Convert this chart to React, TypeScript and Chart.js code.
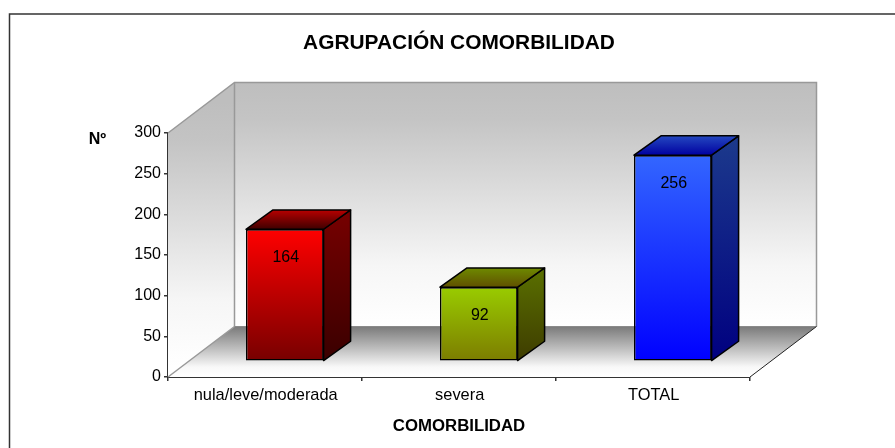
import React, { useEffect, useRef } from "react";
import { Chart, registerables } from "chart.js";

Chart.register(...registerables);

const categories = ["nula/leve/moderada", "severa", "TOTAL"];
const values = [164, 92, 256];
const yTicks = [0, 50, 100, 150, 200, 250, 300];
const chartTitle = "AGRUPACIÓN COMORBILIDAD";
const xTitle = "COMORBILIDAD";
const yTitle = "Nº";

const FONT = "'Liberation Sans', Arial, sans-serif";

const frontColors = [["#ff0000", "#770000"], ["#99cc00", "#7c7c00"], ["#3366ff", "#0000ff"]];
const sideColors = [["#770000", "#3a0000"], ["#5a7000", "#3e3c00"], ["#1c3a8c", "#000080"]];
const topColors = [["#b80000", "#3e0000"], ["#6e8a00", "#605000"], ["#2448c0", "#0000a0"]];

// depth of the plot floor/walls and of the bars, in pixels
const WALL_DX = 66.5;
const WALL_DY = -50.5;
const BAR_SHIFT_X = 19.8;
const BAR_SHIFT_Y = -15.7;
const BAR_DX = 27;
const BAR_DY = -19.5;
const BAR_Y_SCALE = 0.99;

function vGrad(ctx: CanvasRenderingContext2D, y0: number, y1: number, stops: [number, string][]) {
  const g = ctx.createLinearGradient(0, y0, 0, y1);
  stops.forEach(([o, c]) => g.addColorStop(o, c));
  return g;
}

function poly(ctx: CanvasRenderingContext2D, pts: number[][]) {
  ctx.beginPath();
  pts.forEach(([x, y], i) => (i ? ctx.lineTo(x, y) : ctx.moveTo(x, y)));
  ctx.closePath();
}

const wallsPlugin = {
  id: "walls",
  beforeDatasetsDraw(chart: any) {
    const ctx: CanvasRenderingContext2D = chart.ctx;
    const { left, right, top, bottom } = chart.chartArea;
    const bl = left + WALL_DX;
    const br = right + WALL_DX;
    const bt = top + WALL_DY;
    const bb = bottom + WALL_DY;
    ctx.save();

    // frame around the picture
    ctx.strokeStyle = "#333333";
    ctx.lineWidth = 1.5;
    ctx.beginPath();
    ctx.moveTo(9.5, 448);
    ctx.lineTo(9.5, 14);
    ctx.lineTo(895, 14);
    ctx.stroke();

    const wallStops: [number, string][] = [[0, "#bebebe"], [0.15, "#c4c4c4"], [0.75, "#f6f6f6"], [1, "#ffffff"]];
    // back wall
    poly(ctx, [[bl, bt], [br, bt], [br, bb], [bl, bb]]);
    ctx.fillStyle = vGrad(ctx, bt, bb, wallStops);
    ctx.fill();
    // left wall
    poly(ctx, [[left, top], [bl, bt], [bl, bb], [left, bottom]]);
    ctx.fillStyle = vGrad(ctx, bt + 20, bottom - 10, wallStops);
    ctx.fill();
    // floor
    poly(ctx, [[left, bottom], [bl, bb], [br, bb], [right, bottom]]);
    ctx.fillStyle = vGrad(ctx, bb, bottom, [[0, "#7a7a7a"], [0.45, "#c0c0c0"], [0.8, "#f8f8f8"], [1, "#ffffff"]]);
    ctx.fill();

    // wall edges
    ctx.strokeStyle = "#999999";
    ctx.lineWidth = 1.5;
    ctx.beginPath();
    ctx.moveTo(left, top);
    ctx.lineTo(bl, bt);
    ctx.lineTo(br, bt);
    ctx.lineTo(br, bb);
    ctx.moveTo(bl, bt);
    ctx.lineTo(bl, bb);
    ctx.moveTo(left, bottom);
    ctx.lineTo(bl, bb);
    ctx.stroke();
    ctx.strokeStyle = "#8a8a8a";
    ctx.lineWidth = 1;
    ctx.beginPath();
    ctx.moveTo(bl, bb);
    ctx.lineTo(br, bb);
    ctx.stroke();
    ctx.strokeStyle = "#222222";
    ctx.lineWidth = 1;
    ctx.beginPath();
    ctx.moveTo(right, bottom);
    ctx.lineTo(br, bb);
    ctx.stroke();

    // horizontal y-axis caption
    ctx.fillStyle = "#000000";
    ctx.font = `bold 16px ${FONT}`;
    ctx.textAlign = "center";
    ctx.textBaseline = "middle";
    ctx.fillText(yTitle, 97.5, 140);
    ctx.restore();
  },
};

const bars3dPlugin = {
  id: "bars3d",
  beforeDatasetDraw(chart: any, args: any) {
    const ctx: CanvasRenderingContext2D = chart.ctx;
    const meta = args.meta;
    const y0 = chart.scales.y.getPixelForValue(0);
    ctx.save();
    ctx.translate(BAR_SHIFT_X, BAR_SHIFT_Y + y0);
    ctx.scale(1, BAR_Y_SCALE);
    ctx.translate(0, -y0);
    ctx.lineJoin = "round";
    meta.data.forEach((bar: any, i: number) => {
      const { x, y, base, width } = bar.getProps(["x", "y", "base", "width"], true);
      const l = x - width / 2;
      const r = x + width / 2;
      // side
      poly(ctx, [[r, y], [r + BAR_DX, y + BAR_DY], [r + BAR_DX, base + BAR_DY], [r, base]]);
      ctx.fillStyle = vGrad(ctx, y + BAR_DY, base, [[0, sideColors[i][0]], [1, sideColors[i][1]]]);
      ctx.fill();
      ctx.strokeStyle = "#000000";
      ctx.lineWidth = 1.5;
      ctx.stroke();
      // top
      poly(ctx, [[l, y], [l + BAR_DX, y + BAR_DY], [r + BAR_DX, y + BAR_DY], [r, y]]);
      ctx.fillStyle = vGrad(ctx, y + BAR_DY, y, [[0, topColors[i][0]], [1, topColors[i][1]]]);
      ctx.fill();
      ctx.stroke();
    });
  },
  afterDatasetDraw(chart: any, args: any) {
    const ctx: CanvasRenderingContext2D = chart.ctx;
    ctx.fillStyle = "#000000";
    ctx.font = `16px ${FONT}`;
    ctx.textAlign = "center";
    ctx.textBaseline = "middle";
    args.meta.data.forEach((bar: any, i: number) => {
      const { x, y } = bar.getProps(["x", "y"], true);
      ctx.fillText(String(values[i]), x + 1, y + 29);
    });
    ctx.restore();
  },
};

export default function App() {
  const ref = useRef<HTMLCanvasElement | null>(null);

  useEffect(() => {
    const canvas = ref.current;
    if (!canvas) return;
    const chart = new Chart(canvas, {
      type: "bar",
      data: {
        labels: categories,
        datasets: [
          {
            data: values,
            clip: false,
            categoryPercentage: 0.4,
            barPercentage: 1,
            borderColor: "#000000",
            borderWidth: 1.5,
            borderSkipped: false,
            backgroundColor: (c: any) => {
              const i = c.dataIndex;
              const y = c.chart.scales.y;
              if (i === undefined || !y) return "#888888";
              const y0 = y.getPixelForValue(values[i]);
              const y1 = y.getPixelForValue(0);
              if (!Number.isFinite(y0) || !Number.isFinite(y1)) return frontColors[i][0];
              const g = c.chart.ctx.createLinearGradient(0, y0, 0, y1);
              g.addColorStop(0, frontColors[i][0]);
              g.addColorStop(1, frontColors[i][1]);
              return g;
            },
          } as any,
        ],
      },
      options: {
        responsive: false,
        animation: false,
        layout: { padding: { left: 0, right: 145, top: 0, bottom: 0 } },
        plugins: {
          legend: { display: false },
          tooltip: { enabled: false },
          title: {
            display: true,
            text: chartTitle,
            fullSize: false,
            color: "#000000",
            font: { family: FONT, size: 20.9, weight: "bold" },
            padding: { top: 30.4, bottom: 77.5 },
          },
        },
        scales: {
          x: {
            afterFit: (s: any) => {
              s.height = 71;
            },
            grid: { drawOnChartArea: false, drawTicks: true, tickLength: 4, color: "#333333", lineWidth: 1.5 },
            border: { color: "#333333", width: 2 },
            ticks: {
              color: "#000000",
              padding: 5,
              labelOffset: 0.7,
              maxRotation: 0,
              autoSkip: false,
              font: { family: FONT, size: 16.4 },
            },
            title: {
              display: true,
              text: xTitle,
              color: "#000000",
              font: { family: FONT, size: 16.8, weight: "bold" },
              padding: { top: 0, bottom: 12 },
            },
          },
          y: {
            min: 0,
            max: 300,
            afterFit: (s: any) => {
              s.width = 168;
            },
            afterBuildTicks: (s: any) => {
              s.ticks = yTicks.map((value) => ({ value }));
            },
            grid: { drawOnChartArea: false, drawTicks: true, tickLength: 4, color: "#333333", lineWidth: 1.5 },
            border: { color: "#333333", width: 2 },
            ticks: {
              color: "#000000",
              padding: 3,
              font: { family: FONT, size: 16 },
            },
          },
        },
      },
      plugins: [wallsPlugin, bars3dPlugin],
    } as any);
    return () => chart.destroy();
  }, []);

  return (
    <div style={{ position: "absolute", left: 0, top: 0, width: 895, height: 448, overflow: "hidden", background: "#ffffff" }}>
      <canvas ref={ref} width={895} height={448} style={{ display: "block" }} />
    </div>
  );
}
